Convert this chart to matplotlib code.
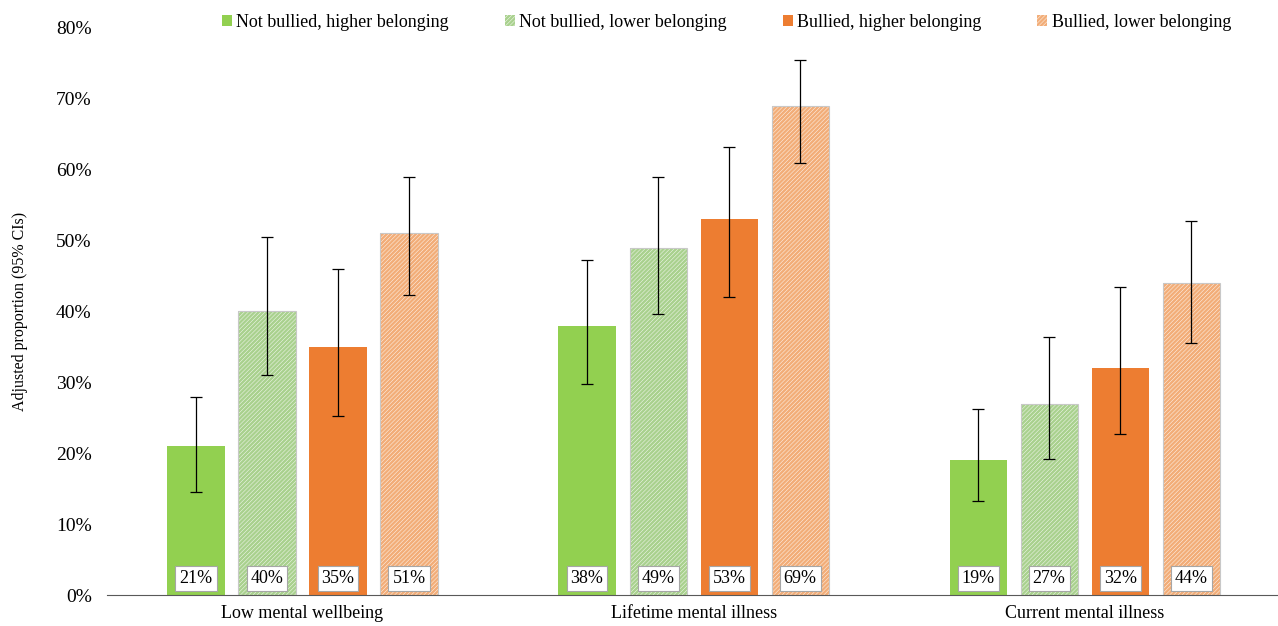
import numpy as np
import matplotlib
matplotlib.use("Agg")
import matplotlib.pyplot as plt
from matplotlib.patches import Patch

plt.rcParams["font.family"] = ["Liberation Serif", "DejaVu Serif"]
plt.rcParams["hatch.linewidth"] = 1.8

categories = ["Low mental wellbeing", "Lifetime mental illness", "Current mental illness"]
series = ["Not bullied, higher belonging", "Not bullied, lower belonging",
          "Bullied, higher belonging", "Bullied, lower belonging"]
values = [
    [21, 38, 19],
    [40, 49, 27],
    [35, 53, 32],
    [51, 69, 44],
]
ci_low = [
    [14.5, 29.8, 13.2],
    [31.0, 39.6, 19.2],
    [25.2, 42.0, 22.7],
    [42.3, 60.9, 35.6],
]
ci_high = [
    [28.0, 47.2, 26.3],
    [50.5, 58.9, 36.4],
    [46.0, 63.2, 43.5],
    [59.0, 75.5, 52.8],
]

faces = ["#92D050", "white", "#ED7D31", "white"]
hatch_col = ["#92D050", "#A9D18E", "#ED7D31", "#F2AD78"]
hatches = [None, "////////", None, "////////"]

fig = plt.figure(figsize=(12.78, 6.26), dpi=100)
ax = fig.add_axes([0.0837, 0.0495, 0.918, 0.906])

x = np.arange(len(categories))
w = 0.146
step = 0.1816
for i in range(4):
    xs = x + (i - 1.5) * step
    vals = np.array(values[i])
    ax.bar(xs, vals, w, color=faces[i], edgecolor=hatch_col[i], hatch=hatches[i],
           linewidth=0, zorder=2)
    if hatches[i]:
        ax.bar(xs, vals, w, fill=False, edgecolor="#C8C8C8", linewidth=0.8, zorder=2)
    err = [vals - np.array(ci_low[i]), np.array(ci_high[i]) - vals]
    ax.errorbar(xs, vals, yerr=err, fmt="none", ecolor="black", elinewidth=0.9,
                capsize=4, capthick=0.9, zorder=3)
    for xx, v in zip(xs, vals):
        ax.text(xx, 2.3, "%d%%" % v, ha="center", va="center", fontsize=13,
                zorder=4,
                bbox=dict(boxstyle="square,pad=0.22", fc="white", ec="#A6A6A6", lw=0.8))

ax.set_xlim(-0.5, 2.5)
ax.set_ylim(0, 80)
ax.set_yticks(range(0, 81, 10))
ax.set_yticklabels(["%d%%" % t for t in range(0, 81, 10)], fontsize=14)
ax.set_xticks(x)
ax.set_xticklabels(categories, fontsize=13)
ax.tick_params(axis="x", length=0, pad=7)
ax.tick_params(axis="y", length=0, pad=11)
for s in ["top", "right", "left"]:
    ax.spines[s].set_visible(False)
ax.spines["bottom"].set_color("#595959")
ax.set_ylabel("Adjusted proportion (95% CIs)", fontsize=11.5, labelpad=20)

handles = []
for i in range(4):
    handles.append(Patch(facecolor=faces[i], edgecolor=hatch_col[i], hatch=hatches[i], lw=0))
ax.legend(handles, series, ncol=4, loc="center", bbox_to_anchor=(0.528, 1.01),
          frameon=False, fontsize=13, handlelength=0.55, handleheight=0.55,
          handletextpad=0.25, columnspacing=3.1)

fig.savefig("out.png", dpi=100)
